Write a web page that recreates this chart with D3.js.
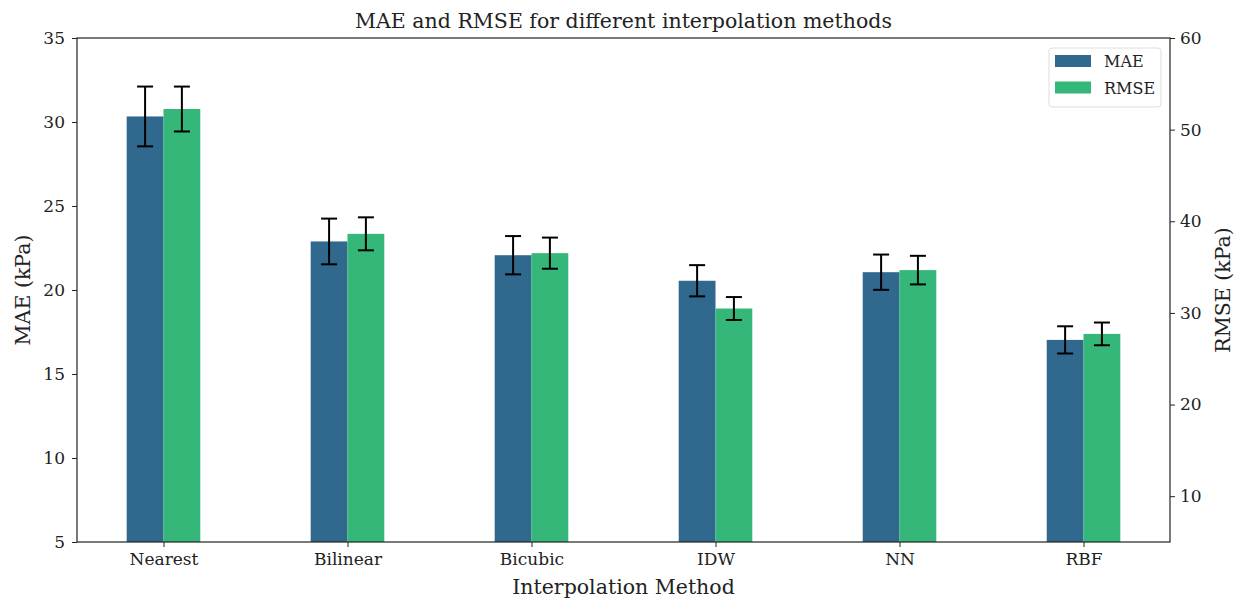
<!DOCTYPE html>
<html><head><meta charset="utf-8">
<script src="https://cdn.jsdelivr.net/npm/d3@7"></script>
<style>body{margin:0;background:#fff}svg{display:block}</style>
</head><body>
<svg id="chart" width="1247" height="602"></svg>
<script>
const categories = ["Nearest","Bilinear","Bicubic","IDW","NN","RBF"];
const maeValues = [30.33, 22.89, 22.07, 20.55, 21.06, 17.03];
const maeErrors = [1.78, 1.36, 1.14, 0.93, 1.05, 0.81];
const rmseValues = [52.25, 38.63, 36.52, 30.48, 34.67, 27.71];
const rmseErrors = [2.45, 1.8, 1.7, 1.25, 1.56, 1.24];
const leftTicks = [5,10,15,20,25,30,35];
const rightTicks = [10,20,30,40,50,60];
const seriesNames = ["MAE","RMSE"];
const colors = ["#31688e","#35b779"];

const font = "'DejaVu Serif', serif";
const svg = d3.select("#chart");
const L=77, R=1170, T=38, B=542;
const x = d3.scaleLinear().domain([-0.47, 5.47]).range([L,R]);
const yL = d3.scaleLinear().domain([5,35]).range([B,T]);
const yR = d3.scaleLinear().domain([5,60]).range([B,T]);
const bw = 0.2;

const series = [
  {name:seriesNames[0], vals:maeValues, errs:maeErrors, y:yL, off:-0.1, color:colors[0]},
  {name:seriesNames[1], vals:rmseValues, errs:rmseErrors, y:yR, off:0.1, color:colors[1]}
];

series.forEach(s=>{
  const g = svg.append("g");
  g.selectAll("rect").data(s.vals).join("rect")
    .attr("x",(d,i)=>x(i+s.off-bw/2))
    .attr("width",x(bw)-x(0))
    .attr("y",d=>s.y(d))
    .attr("height",d=>B-s.y(d))
    .attr("fill",s.color);
  const eg = g.selectAll("g.err").data(s.vals).join("g").attr("class","err");
  eg.append("line")
    .attr("x1",(d,i)=>x(i+s.off)).attr("x2",(d,i)=>x(i+s.off))
    .attr("y1",(d,i)=>s.y(d+s.errs[i])).attr("y2",(d,i)=>s.y(d-s.errs[i]))
    .attr("stroke","#000").attr("stroke-width",2);
  [1,-1].forEach(sg=>{
    eg.append("line")
      .attr("x1",(d,i)=>x(i+s.off)-8).attr("x2",(d,i)=>x(i+s.off)+8)
      .attr("y1",(d,i)=>s.y(d+sg*s.errs[i])).attr("y2",(d,i)=>s.y(d+sg*s.errs[i]))
      .attr("stroke","#000").attr("stroke-width",2);
  });
});

// axes
const axL = svg.append("g").attr("transform",`translate(${L},0)`)
  .call(d3.axisLeft(yL).tickValues(leftTicks).tickSize(5).tickPadding(7));
const axR = svg.append("g").attr("transform",`translate(${R},0)`)
  .call(d3.axisRight(yR).tickValues(rightTicks).tickSize(5).tickPadding(5));
const axB = svg.append("g").attr("transform",`translate(0,${B})`)
  .call(d3.axisBottom(x).tickValues(d3.range(categories.length)).tickFormat(i=>categories[i]).tickSize(5).tickPadding(6));
[axL,axR,axB].forEach(a=>{
  a.selectAll("text").attr("font-family",font).attr("font-size",17).attr("fill","#222");
  a.selectAll("line").attr("stroke","#222");
  a.select(".domain").remove();
});
// frame
svg.append("rect").attr("x",L).attr("y",T).attr("width",R-L).attr("height",B-T)
  .attr("fill","none").attr("stroke","#222").attr("stroke-width",1.2);

// title & labels
svg.append("text").attr("x",(L+R)/2).attr("y",28).attr("text-anchor","middle")
  .attr("font-family",font).attr("font-size",20.5).attr("fill","#222")
  .text("MAE and RMSE for different interpolation methods");
svg.append("text").attr("x",(L+R)/2).attr("y",594).attr("text-anchor","middle")
  .attr("font-family",font).attr("font-size",20.5).attr("fill","#222")
  .text("Interpolation Method");
svg.append("text").attr("transform",`translate(30,${(T+B)/2}) rotate(-90)`).attr("text-anchor","middle")
  .attr("font-family",font).attr("font-size",20.5).attr("fill","#222").text("MAE (kPa)");
svg.append("text").attr("transform",`translate(1230,${(T+B)/2}) rotate(-90)`).attr("text-anchor","middle")
  .attr("font-family",font).attr("font-size",20.5).attr("fill","#222").text("RMSE (kPa)");

// legend
const lg = svg.append("g");
lg.append("rect").attr("x",1049).attr("y",48).attr("width",112).attr("height",59).attr("rx",3)
  .attr("fill","#fff").attr("fill-opacity",0.8).attr("stroke","#ddd");
series.forEach((s,i)=>{
  lg.append("rect").attr("x",1055).attr("y",55+i*26.5).attr("width",36).attr("height",12).attr("fill",s.color);
  lg.append("text").attr("x",1104).attr("y",67+i*26.5).attr("font-family",font).attr("font-size",16)
    .attr("fill","#222").text(s.name);
});
</script>
</body></html>
